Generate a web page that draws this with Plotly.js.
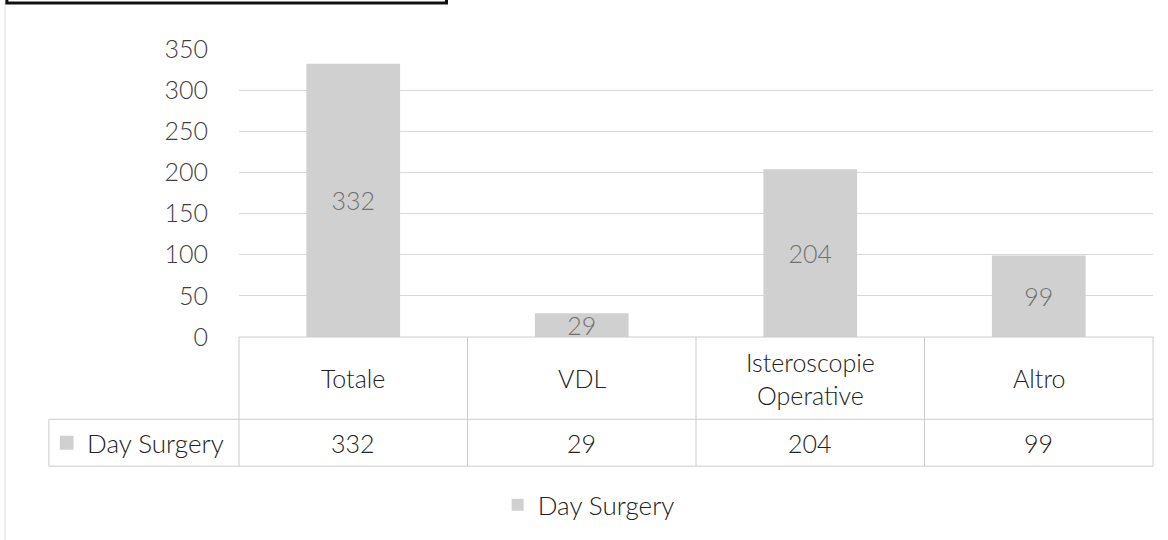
<!DOCTYPE html>
<html>
<head>
<meta charset="utf-8">
<script src="https://cdn.plot.ly/plotly-3.0.1.min.js"></script>
<style>
  html, body { margin: 0; padding: 0; background: #ffffff; }
  #chart { width: 1168px; height: 540px; }
</style>
</head>
<body>
<div id="chart"></div>
<script>
// ---- data ----
const categories = ['Totale', 'VDL', 'Isteroscopie<br>Operative', 'Altro'];
const seriesName = 'Day Surgery';
const values = [332, 29, 204, 99];
const yTickValues = [0, 50, 100, 150, 200, 250, 300, 350];
const yTickLabels = ['0', '50', '100', '150', '200', '250', '300', '350'];

// ---- style ----
const FONT = 'Lato, "Open Sans", "Liberation Sans", sans-serif';
const W = 300;
const BAR_COLOR = '#d0d0d0';
const GRID = '#d8d8d8';
const CELL = '#cccccc';
const TXT = '#222222';
const yMax = 350;
const n = categories.length;

// table rows, expressed in y-axis units below zero
const headerMid = -50, rowLine = -100, dataMid = -129, tableBottom = -157;
const yp = v => v / yMax;                 // y value -> paper
const xp = b => b / n;                    // category boundary index -> paper
const xc = i => (i + 0.5) / n;            // category centre -> paper

const shapes = [];
const annotations = [];

// table vertical cell borders
for (let i = 0; i <= n; i++) {
  shapes.push({type: 'line', xref: 'paper', yref: 'paper', x0: xp(i), x1: xp(i),
    y0: 0, y1: yp(tableBottom), line: {color: CELL, width: 1}});
}
// table horizontal borders
[0, rowLine, tableBottom].forEach(v => {
  shapes.push({type: 'line', xref: 'paper', yref: 'paper', x0: 0, x1: 1,
    y0: yp(v), y1: yp(v), line: {color: CELL, width: 1}});
});
// row-header cell
const rowHeadLeft = -0.208;
shapes.push({type: 'line', xref: 'paper', yref: 'paper', x0: rowHeadLeft, x1: 0,
  y0: yp(rowLine), y1: yp(rowLine), line: {color: CELL, width: 1}});
shapes.push({type: 'line', xref: 'paper', yref: 'paper', x0: rowHeadLeft, x1: 0,
  y0: yp(tableBottom), y1: yp(tableBottom), line: {color: CELL, width: 1}});
shapes.push({type: 'line', xref: 'paper', yref: 'paper', x0: rowHeadLeft, x1: rowHeadLeft,
  y0: yp(rowLine), y1: yp(tableBottom), line: {color: CELL, width: 1}});
// legend key in the row header
shapes.push({type: 'rect', xref: 'paper', yref: 'paper', x0: -0.196, x1: -0.181,
  y0: yp(-120), y1: yp(-137), fillcolor: BAR_COLOR, line: {width: 0}});

// header texts and data values, from the arrays
categories.forEach((c, i) => {
  annotations.push({xref: 'paper', yref: 'paper', x: xc(i), y: yp(headerMid), text: c, showarrow: false,
    xanchor: 'center', yanchor: 'middle', align: 'center',
    font: {family: FONT, size: 25, weight: W, color: TXT}});
  annotations.push({xref: 'paper', yref: 'paper', x: xc(i), y: yp(dataMid), text: String(values[i]), showarrow: false,
    xanchor: 'center', yanchor: 'middle',
    font: {family: FONT, size: 25, weight: W, color: TXT}});
});
annotations.push({xref: 'paper', yref: 'paper', x: -0.169, y: yp(dataMid), text: seriesName, showarrow: false,
  xanchor: 'left', yanchor: 'middle', font: {family: FONT, size: 26, weight: W, color: TXT}});

// left chart frame line
shapes.push({type: 'line', xref: 'paper', yref: 'paper', x0: -0.256, x1: -0.256,
  y0: 1.16, y1: -0.72, line: {color: '#dddddd', width: 1}});
// black box at the very top (cut-off title frame)
shapes.push({type: 'rect', xref: 'paper', yref: 'paper', x0: -0.254, x1: 0.227,
  y0: 1.16, y1: 1.25, line: {color: '#111111', width: 3}, fillcolor: 'rgba(0,0,0,0)'});

const trace = {
  type: 'bar',
  name: seriesName,
  x: categories,
  y: values,
  width: 0.41,
  marker: {color: BAR_COLOR, line: {width: 0}},
  text: values.map(String),
  textposition: 'inside',
  insidetextanchor: 'middle',
  textangle: 0,
  constraintext: 'none',
  textfont: {family: FONT, size: 25, weight: W, color: '#707070'},
  hoverinfo: 'none'
};

const layout = {
  width: 1168, height: 540,
  margin: {l: 239, r: 15, t: 49, b: 203},
  paper_bgcolor: '#ffffff', plot_bgcolor: '#ffffff',
  font: {family: FONT, size: 24, weight: W, color: '#404040'},
  showlegend: true,
  legend: {orientation: 'h', x: 0.283, xanchor: 'left', y: -0.583, yanchor: 'middle',
    font: {family: FONT, size: 26, weight: W, color: TXT}, bgcolor: 'rgba(0,0,0,0)'},
  xaxis: {type: 'category', range: [-0.5, n - 0.5], showticklabels: false, showgrid: false,
    zeroline: false, showline: false, ticks: '', fixedrange: true},
  yaxis: {range: [0, yMax], tickmode: 'array', tickvals: yTickValues, ticktext: yTickLabels,
    showgrid: true, gridcolor: GRID, gridwidth: 1, zeroline: false, showline: false, ticks: '',
    ticklabelstandoff: 30, tickfont: {family: FONT, size: 25, weight: W, color: '#404040'}, fixedrange: true},
  shapes: shapes,
  annotations: annotations,
  bargap: 0.59
};

Plotly.newPlot('chart', [trace], layout, {displayModeBar: false, staticPlot: true});
</script>
</body>
</html>
